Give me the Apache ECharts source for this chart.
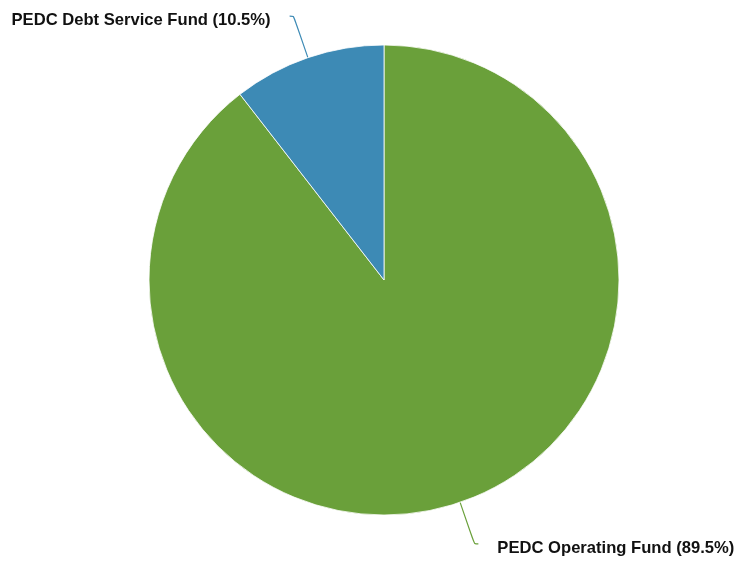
<!DOCTYPE html>
<html><head><meta charset="utf-8">
<script src="https://cdn.jsdelivr.net/npm/echarts@6/dist/echarts.min.js"></script>
<style>html,body{margin:0;padding:0;background:#fff}#c{width:735px;height:561px}</style>
</head><body><div id="c"></div>
<script>
const categories = ["PEDC Operating Fund", "PEDC Debt Service Fund"];
const values = [89.5, 10.5];
const colors = ["#6aa03a", "#3d8ab5"];

const chart = echarts.init(document.getElementById('c'), null, {renderer: 'canvas'});
chart.setOption({
  animation: false,
  series: [{
    type: 'pie',
    center: [384, 280],
    radius: [0, 235],
    startAngle: 90,
    clockwise: true,
    avoidLabelOverlap: false,
    data: categories.map((n, i) => ({name: n, value: values[i], itemStyle: {color: colors[i]}})),
    itemStyle: {borderColor: '#ffffff', borderWidth: 0.8},
    label: {
      show: true,
      formatter: p => '{a|' + p.name + ' (' + p.value.toFixed(1) + '%)}',
      distanceToLabelLine: 19,
      rich: {
        a: {
          fontFamily: 'Liberation Sans, Arial, sans-serif',
          fontWeight: 'bold',
          fontSize: 16.6,
          color: '#111',
          padding: [8, 0, 0, 0]
        }
      }
    },
    labelLine: {show: true, length: 44, length2: 4, smooth: true, lineStyle: {width: 1.2}},
    emphasis: {disabled: true}
  }]
});
</script></body></html>
